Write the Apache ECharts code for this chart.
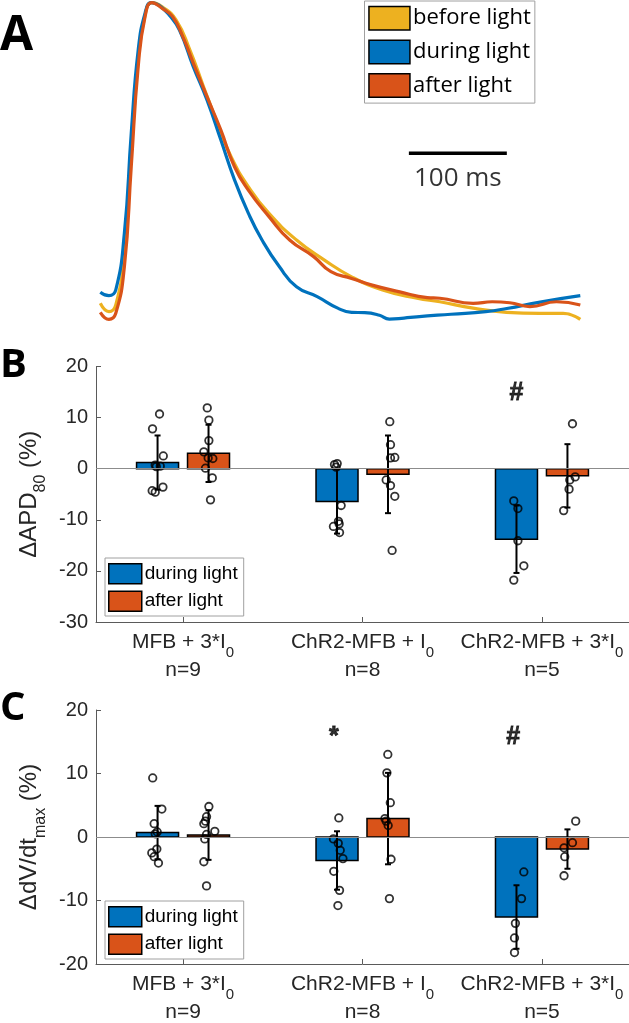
<!DOCTYPE html>
<html>
<head>
<meta charset="utf-8">
<script src="https://cdn.jsdelivr.net/npm/echarts@6/dist/echarts.min.js"></script>
<style>
html, body { margin: 0; padding: 0; background: #fff; }
#chart { width: 629px; height: 1023px; }
</style>
</head>
<body>
<div id="chart"></div>
<script>
// A: action potential traces, [time (ms), normalised amplitude]
var traceBefore = [[0,0.052],[8.8,0.026],[15.8,0.047],[24.6,0.209],[31.6,0.522],[38.7,0.813],[45.7,0.953],[52.7,0.992],[63.2,0.979],[77.3,0.938],[91.4,0.844],[105.4,0.729],[119.5,0.615],[133.5,0.51],[151.1,0.417],[172.2,0.333],[200.3,0.25],[228.4,0.188],[256.5,0.135],[288.1,0.094],[323.3,0.068],[346.6,0.057],[380.6,0.037],[414.7,0.024],[448.7,0.021],[472.5,0.021],[490,0.002]];
var traceDuring = [[0,0.087],[8.8,0.076],[15.8,0.094],[24.6,0.272],[31.6,0.584],[38.7,0.844],[45.7,0.959],[52,0.992],[59.7,0.984],[70.3,0.953],[80.8,0.906],[94.9,0.792],[108.9,0.688],[123,0.563],[137,0.438],[151.1,0.334],[165.1,0.25],[182.7,0.167],[200.3,0.104],[221.4,0.073],[242.4,0.037],[256.5,0.024],[270,0.023],[285,0.015],[295,0.003],[310,0.006],[323,0.01],[358,0.018],[393.5,0.026],[415,0.036],[449,0.056],[490,0.076]];
var traceAfter = [[0,0.024],[8.8,0.002],[15.8,0.021],[24.6,0.167],[31.6,0.479],[38.7,0.792],[45.7,0.948],[52.7,0.992],[63.2,0.974],[73.8,0.948],[84.3,0.885],[94.9,0.803],[108.9,0.698],[123,0.594],[137,0.479],[151.1,0.406],[172.2,0.323],[193.3,0.25],[217.8,0.198],[235.4,0.151],[256.5,0.13],[277.6,0.109],[305.7,0.088],[333.8,0.07],[346.6,0.068],[380.6,0.052],[400,0.057],[418,0.054],[438.5,0.042],[465.7,0.057],[490,0.047]];
var scaleBar = [[315, 0.521], [415, 0.521]];

// B and C: groups on the x axis
var groups = [1, 2, 3];
var groupNames = ['MFB + 3*I', 'ChR2-MFB + I', 'ChR2-MFB + 3*I'];
var groupN = ['n=9', 'n=8', 'n=5'];

// B: delta APD80 (%)
var apdDuringMean = [1.2, -6.4, -13.8];
var apdDuringSd = [5.3, 6.3, 6.6];
var apdAfterMean = [3.0, -1.1, -1.4];
var apdAfterSd = [5.6, 7.6, 6.2];
var apdDuringPts = [[0.869,10.7],[0.830,7.8],[0.890,2.5],[0.845,0.7],[0.873,0.5],[0.851,0.4],[0.888,-3.6],[0.828,-4.3],[0.845,-4.6],
  [1.859,1.0],[1.844,0.8],[1.853,0.3],[1.881,-7.2],[1.866,-10.3],[1.870,-10.8],[1.838,-11.3],[1.872,-12.5],
  [2.843,-6.3],[2.866,-7.8],[2.866,-14.1],[2.899,-19.0],[2.843,-21.8]];
var apdAfterPts = [[1.135,11.9],[1.144,9.5],[1.144,5.5],[1.116,3.3],[1.140,2.1],[1.166,2.0],[1.125,0.1],[1.163,-1.8],[1.153,-6.1],
  [2.152,9.2],[2.156,4.7],[2.156,2.1],[2.180,2.2],[2.132,-2.2],[2.156,-3.3],[2.180,-5.4],[2.165,-16.0],
  [3.170,8.8],[3.155,-2.2],[3.185,-1.6],[3.151,-4.0],[3.121,-8.2]];
var apdMarks = [[2.858, 14.8, '#']];

// C: delta dV/dt max (%)
var dvDuringMean = [0.7, -3.7, -12.6];
var dvDuringSd = [4.2, 4.6, 5.0];
var dvAfterMean = [0.3, 2.9, -1.9];
var dvAfterSd = [3.9, 7.2, 3.1];
var dvDuringPts = [[0.831,9.3],[0.882,4.4],[0.839,2.1],[0.856,0.8],[0.845,0.5],[0.854,-1.9],[0.826,-2.5],[0.839,-3.1],[0.863,-4.1],
  [1.868,3.0],[1.838,-0.3],[1.865,-1.0],[1.876,-2.1],[1.891,-3.4],[1.840,-5.4],[1.872,-8.4],[1.863,-10.8],
  [2.899,-5.5],[2.886,-9.7],[2.852,-13.6],[2.847,-15.9],[2.847,-18.2]];
var dvAfterPts = [[1.144,4.8],[1.131,3.2],[1.125,2.5],[1.116,2.1],[1.177,0.9],[1.131,0.4],[1.121,-0.3],[1.116,-3.9],[1.131,-7.7],
  [2.141,13.0],[2.136,10.1],[2.155,5.4],[2.125,2.9],[2.132,2.5],[2.143,1.8],[2.159,-3.5],[2.150,-9.7],
  [3.188,2.5],[3.170,-0.9],[3.123,-1.7],[3.127,-3.1],[3.123,-6.1]];
var dvMarks = [[1.84, 15.7, '*'], [2.84, 15.7, '#']];

var BLUE = '#0072BD', ORANGE = '#D95319', YELLOW = '#EDB120';
var OFF = 0.142, HALF = 0.117;
var AX = '#5a5a5a', TXT = '#262626';
var FONT = 'Arial, "Liberation Sans", sans-serif';
var FONT2 = '"Open Sans", sans-serif';

function barItem(params, api) {
    var x = api.value(0), y = api.value(1);
    var p0 = api.coord([x - HALF, 0]);
    var p1 = api.coord([x + HALF, y]);
    return {
        type: 'rect',
        shape: { x: p0[0], y: Math.min(p0[1], p1[1]), width: p1[0] - p0[0], height: Math.abs(p1[1] - p0[1]) },
        style: { fill: api.visual('color'), stroke: '#000', lineWidth: 1.5 }
    };
}

function errItem(params, api) {
    var x = api.value(0), m = api.value(1), s = api.value(2);
    var hi = api.coord([x, m + s]);
    var lo = api.coord([x, m - s]);
    var st = { stroke: '#000', lineWidth: 2 };
    return {
        type: 'group',
        children: [
            { type: 'line', shape: { x1: hi[0], y1: hi[1], x2: lo[0], y2: lo[1] }, style: st },
            { type: 'line', shape: { x1: hi[0] - 3, y1: hi[1], x2: hi[0] + 3, y2: hi[1] }, style: st },
            { type: 'line', shape: { x1: lo[0] - 3, y1: lo[1], x2: lo[0] + 3, y2: lo[1] }, style: st }
        ]
    };
}

function barData(means, shift) {
    return groups.map(function (g, i) { return [g + shift, means[i]]; });
}
function errData(means, sds, shift) {
    return groups.map(function (g, i) { return [g + shift, means[i], sds[i]]; });
}

function panelSeries(idx, durMean, durSd, aftMean, aftSd, durPts, aftPts, marks) {
    var ax = { xAxisIndex: idx, yAxisIndex: idx };
    var dot = { color: 'rgba(0,0,0,0)', borderColor: '#000', borderWidth: 1.8 };
    return [
        Object.assign({
            name: 'during light', type: 'custom', renderItem: barItem, z: 2,
            itemStyle: { color: BLUE }, encode: { x: 0, y: 1 }, data: barData(durMean, -OFF),
            markLine: {
                silent: true, symbol: 'none', label: { show: false },
                lineStyle: { color: '#8c8c8c', width: 1.2, type: 'solid' },
                data: [{ yAxis: 0 }]
            }
        }, ax),
        Object.assign({
            name: 'after light', type: 'custom', renderItem: barItem, z: 2,
            itemStyle: { color: ORANGE }, encode: { x: 0, y: 1 }, data: barData(aftMean, OFF)
        }, ax),
        Object.assign({ type: 'custom', renderItem: errItem, z: 3, encode: { x: 0, y: 1 }, data: errData(durMean, durSd, -OFF) }, ax),
        Object.assign({ type: 'custom', renderItem: errItem, z: 3, encode: { x: 0, y: 1 }, data: errData(aftMean, aftSd, OFF) }, ax),
        Object.assign({ type: 'scatter', z: 4, symbolSize: 7.5, itemStyle: dot, data: durPts }, ax),
        Object.assign({ type: 'scatter', z: 4, symbolSize: 7.5, itemStyle: dot, data: aftPts }, ax),
        Object.assign({
            type: 'scatter', z: 5, symbolSize: 0, data: marks,
            label: {
                show: true, position: 'inside', fontSize: 25, fontWeight: 'bold', color: '#000', fontFamily: FONT,
                textBorderColor: '#000', textBorderWidth: 0.8,
                formatter: function (p) { return p.value[2]; }
            }
        }, ax)
    ];
}

function groupXAxis(idx) {
    return {
        type: 'value', gridIndex: idx, min: 0.515, max: 3.485,
        axisLine: { show: true, onZero: false, lineStyle: { color: AX, width: 1 } },
        axisTick: { show: true, inside: true, length: 5, customValues: groups, lineStyle: { color: AX } },
        splitLine: { show: false },
        axisLabel: {
            show: true, customValues: groups, margin: 3,
            fontSize: 21, color: TXT, fontFamily: FONT, lineHeight: 35,
            formatter: function (v) {
                var i = Math.round(v) - 1;
                return groupNames[i] + '{s|0}\n{n|' + groupN[i] + '}';
            },
            rich: {
                s: { fontSize: 15, lineHeight: 15, verticalAlign: 'bottom', color: TXT, fontFamily: FONT },
                n: { fontSize: 21, lineHeight: 20, color: TXT, fontFamily: FONT }
            }
        }
    };
}

function valueYAxis(idx, min, max, name) {
    return {
        type: 'value', gridIndex: idx, min: min, max: max, interval: 10,
        axisLine: { show: true, lineStyle: { color: AX, width: 1 } },
        axisTick: { show: true, inside: true, length: 5, lineStyle: { color: AX } },
        splitLine: { show: false },
        axisLabel: { fontSize: 20, color: TXT, fontFamily: FONT, margin: 8 },
        name: name, nameLocation: 'middle', nameRotate: 90, nameGap: 44,
        nameTextStyle: {
            color: TXT, fontFamily: FONT,
            rich: {
                m: { fontSize: 24, lineHeight: 38, color: TXT, fontFamily: FONT },
                s: { fontSize: 16, lineHeight: 16, verticalAlign: 'bottom', color: TXT, fontFamily: FONT }
            }
        }
    };
}

function smallLegend(top) {
    return {
        data: ['during light', 'after light'], left: 105, top: top, orient: 'vertical',
        icon: 'rect', itemWidth: 33, itemHeight: 20, itemGap: 6, padding: [5, 6, 4, 3],
        borderColor: '#a0a0a0', borderWidth: 1, backgroundColor: '#fff', selectedMode: false,
        itemStyle: { borderColor: '#000', borderWidth: 1.5 },
        textStyle: { fontSize: 19, color: '#000', fontFamily: FONT, padding: [0, 0, 0, -2] }
    };
}

var traceStyle = { type: 'line', xAxisIndex: 0, yAxisIndex: 0, showSymbol: false, smooth: 0.5, z: 2 };

var option = {
    animation: false,
    backgroundColor: '#fff',
    grid: [
        { left: 100.3, top: 0, width: 480, height: 320 },
        { left: 96, top: 366.5, right: 0, height: 255.5 },
        { left: 96, top: 710, right: 0, height: 254 }
    ],
    xAxis: [
        { type: 'value', gridIndex: 0, min: 0, max: 490, show: false },
        groupXAxis(1),
        groupXAxis(2)
    ],
    yAxis: [
        { type: 'value', gridIndex: 0, min: 0, max: 1, show: false },
        valueYAxis(1, -30, 20, '{m|\u0394APD}{s|80}{m| (%)}'),
        valueYAxis(2, -20, 20, '{m|\u0394dV/dt}{s|max}{m| (%)}')
    ],
    legend: [
        {
            data: ['before light', 'during light', 'after light'], left: 364.5, top: 1, orient: 'vertical',
            icon: 'rect', itemWidth: 41, itemHeight: 23.5, itemGap: 8.7, padding: [4.7, 4, 5, 3.7],
            borderColor: '#a0a0a0', borderWidth: 1, backgroundColor: '#fff', selectedMode: false,
            itemStyle: { borderColor: '#000', borderWidth: 1.5 },
            textStyle: { fontSize: 22, color: '#000', fontFamily: FONT2, padding: [0, 0, 0, -2] }
        },
        smallLegend(558),
        smallLegend(901)
    ],
    graphic: [
        { type: 'text', left: 0, top: 12, style: { text: 'A', fontSize: 48, fontWeight: 'bold', fill: '#000', fontFamily: FONT2 } },
        { type: 'text', left: 0, top: 346, style: { text: 'B', fontSize: 40, fontWeight: 'bold', fill: '#000', fontFamily: FONT2 } },
        { type: 'text', left: 0, top: 689, style: { text: 'C', fontSize: 40, fontWeight: 'bold', fill: '#000', fontFamily: FONT2 } }
    ],
    series: [
        { name: 'before light', type: 'custom', xAxisIndex: 0, yAxisIndex: 0, itemStyle: { color: YELLOW }, renderItem: barItem, data: [] },
        Object.assign({ name: 'AP before', data: traceBefore, lineStyle: { color: YELLOW, width: 3.2 }, itemStyle: { color: YELLOW } }, traceStyle),
        Object.assign({ name: 'AP during', data: traceDuring, lineStyle: { color: BLUE, width: 3.2 }, itemStyle: { color: BLUE } }, traceStyle),
        Object.assign({ name: 'AP after', data: traceAfter, lineStyle: { color: ORANGE, width: 3.2 }, itemStyle: { color: ORANGE } }, traceStyle),
        { type: 'line', xAxisIndex: 0, yAxisIndex: 0, data: scaleBar, showSymbol: false, lineStyle: { color: '#000', width: 3.5 } },
        {
            type: 'scatter', xAxisIndex: 0, yAxisIndex: 0, symbolSize: 0,
            data: [[(scaleBar[0][0] + scaleBar[1][0]) / 2, scaleBar[0][1]]],
            label: { show: true, position: 'bottom', distance: 12, formatter: '100 ms', fontSize: 26, color: '#000', fontFamily: FONT2 }
        }
    ].concat(
        panelSeries(1, apdDuringMean, apdDuringSd, apdAfterMean, apdAfterSd, apdDuringPts, apdAfterPts, apdMarks),
        panelSeries(2, dvDuringMean, dvDuringSd, dvAfterMean, dvAfterSd, dvDuringPts, dvAfterPts, dvMarks)
    )
};

var chart = echarts.init(document.getElementById('chart'));
chart.setOption(option);
</script>
</body>
</html>
